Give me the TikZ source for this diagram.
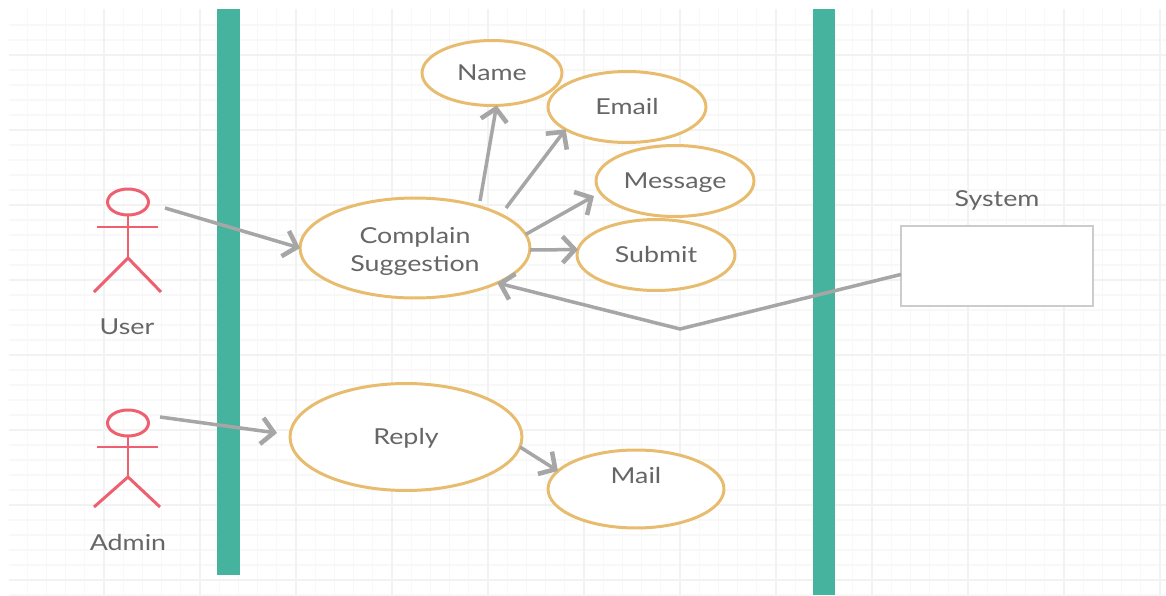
\documentclass[tikz,border=0pt]{standalone}
\usepackage{fontspec}
\setmainfont[FakeStretch=1.22]{Lato}
\usepackage{xcolor}
\usetikzlibrary{shapes.geometric,arrows.meta,positioning}

\definecolor{gridminor}{HTML}{F8F8F8}
\definecolor{gridmajor}{HTML}{F2F2F2}
\definecolor{barcolor}{HTML}{45B39D}
\definecolor{rimcolor}{HTML}{E8BC6E}
\definecolor{actorcolor}{HTML}{EE6070}
\definecolor{linecolor}{HTML}{A6A6A6}
\definecolor{textcolor}{HTML}{666666}

\tikzset{
	usecase/.style={ellipse, draw=rimcolor, fill=white, line width=1.7pt, outer sep=0pt, inner sep=0pt, font=\fontsize{12.5}{16}\selectfont, text=textcolor, text height=12pt, text depth=3pt},
	caption/.style={font=\fontsize{12.5}{16}\selectfont, text=textcolor, inner sep=0pt},
	actorline/.style={draw=actorcolor, line width=1.7pt},
	head/.style={ellipse, draw=actorcolor, line width=1.7pt, minimum width=0.82cm, minimum height=0.52cm, inner sep=0pt, outer sep=0pt},
	link/.style={draw=linecolor, line width=2pt, -{Straight Barb[length=7pt,width=15pt,line width=2.6pt]}}
}

\begin{document}
\begin{tikzpicture}[x=0.02cm, y=-0.02cm]
	\useasboundingbox (0,0) rectangle (1166,595);

	\foreach \x in {27.2,46.4,...,1166} \draw[gridminor, line width=0.6pt] (\x,9) -- (\x,595);
	\foreach \y in {25,40,...,595} \draw[gridminor, line width=0.6pt] (9,\y) -- (1166,\y);
	\foreach \x in {104,200,...,1166} \draw[gridmajor, line width=0.6pt] (\x,9) -- (\x,595);
	\foreach \y in {55,130,...,595} \draw[gridmajor, line width=0.6pt] (9,\y) -- (1166,\y);

	\fill[barcolor] (217,9) rectangle (240,575);
	\fill[barcolor] (813,9) rectangle (835,595);

	\node[usecase, minimum width=2.8cm, minimum height=1.3cm] (name) at (492,73) {Name};
	\node[usecase, minimum width=3.16cm, minimum height=1.42cm] (email) at (627,107) {Email};
	\node[usecase, minimum width=3.16cm, minimum height=1.42cm] (message) at (675,181) {Message};
	\node[usecase, minimum width=3.16cm, minimum height=1.42cm] (submit) at (656,255) {Submit};
	\node[usecase, minimum width=4.6cm, minimum height=2cm, label={[caption, align=center, yshift=-0.06cm]center:Complain\\Suggestion}] (complain) at (415,248) {};
	\node[usecase, minimum width=4.64cm, minimum height=2.14cm] (reply) at (406,437) {Reply};
	\node[usecase, minimum width=3.52cm, minimum height=1.56cm, label={[caption, yshift=0.28cm]center:Mail}] (mail) at (636,489) {};

	\node[draw=black!20, fill=white, line width=1.5pt, minimum width=3.84cm, minimum height=1.6cm, outer sep=0pt] (system) at (997,266) {};
	\node[caption] (systemlabel) at (997,200) {System};

	\node[head] (userhead) at (128,202) {};
	\coordinate (userhip) at (128,258);
	\draw[actorline] (userhead) -- (userhip);
	\draw[actorline] (97,227) -- (158,227);
	\draw[actorline] (94,292) -- (userhip) -- (161,292);
	\node[caption] (userlabel) at (127,327) {User};

	\node[head] (adminhead) at (128,423) {};
	\coordinate (adminhip) at (128,477);
	\draw[actorline] (adminhead) -- (adminhip);
	\draw[actorline] (97,447) -- (158,447);
	\draw[actorline] (94,507) -- (adminhip) -- (160,507);
	\node[caption] (adminlabel) at (128,542) {Admin};

	\coordinate (usertail) at (165,208);
	\coordinate (admintail) at (160,417);
	\coordinate (replyhead) at (277,433);
	\coordinate (nametail) at (480,201);
	\coordinate (emailtail) at (506,208);
	\coordinate (messagehead) at (594,196);
	\coordinate (bend) at (680,329);

	\draw[link] (usertail) -- (complain.west);
	\draw[link] (admintail) -- (replyhead);
	\draw[link] (nametail) -- (name.-82);
	\draw[link] (emailtail) -- (email.200);
	\draw[link] (complain.7) -- (messagehead);
	\draw[link] (complain.-1) -- (submit.176);
	\draw[link] (reply.-5) -- (mail.167);
	\draw[link] (system.185) -- (bend) -- (complain.-23);
\end{tikzpicture}
\end{document}
